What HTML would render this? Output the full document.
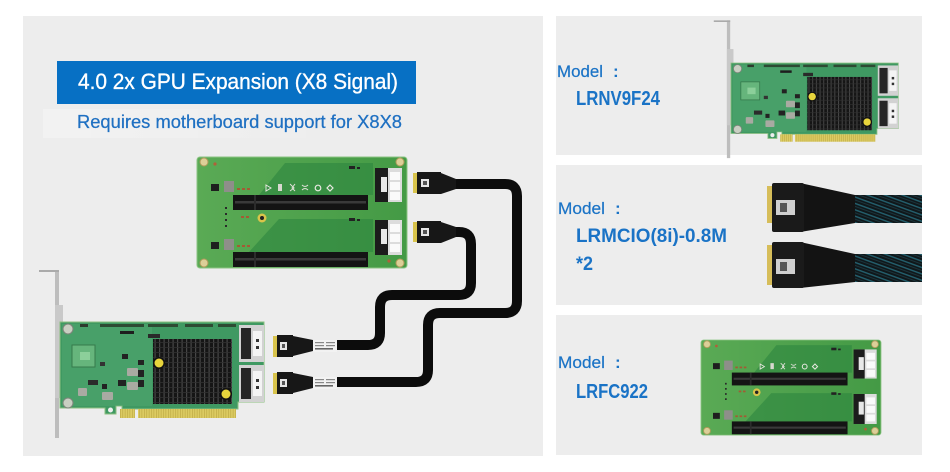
<!DOCTYPE html>
<html><head><meta charset="utf-8"><style>
html,body{margin:0;padding:0;background:#fff;}
svg{display:block;}
text{font-family:"Liberation Sans","Noto Sans CJK SC",sans-serif;}
</style></head><body>
<svg width="950" height="472" viewBox="0 0 950 472" xmlns="http://www.w3.org/2000/svg">
<defs>
  <pattern id="fins" width="4.5" height="5" patternUnits="userSpaceOnUse">
    <rect width="4.5" height="5" fill="#151515"/>
    <rect width="1.2" height="5" fill="#474747"/>
    <rect width="4.5" height="0.8" fill="#303030"/>
  </pattern>
  <pattern id="gold" width="2.4" height="10" patternUnits="userSpaceOnUse">
    <rect width="2.4" height="10" fill="#dccb62"/>
    <rect width="0.6" height="10" fill="#b9a540"/>
  </pattern>
  <pattern id="braid" width="6" height="6" patternUnits="userSpaceOnUse" patternTransform="rotate(20)">
    <rect width="6" height="6" fill="#10171a"/>
    <rect width="6" height="1.4" fill="#24606e"/>
    <rect y="3" width="6" height="1" fill="#1a353c"/>
  </pattern>
  <linearGradient id="glow" x1="0" x2="1" y1="0" y2="0">
    <stop offset="0" stop-color="#fff" stop-opacity="0.3"/>
    <stop offset="1" stop-color="#fff" stop-opacity="0"/>
  </linearGradient>
  <linearGradient id="riserg" x1="0" x2="1" y1="0" y2="0">
    <stop offset="0" stop-color="#5aaa55"/>
    <stop offset="1" stop-color="#449a45"/>
  </linearGradient>

  <!-- Riser board (local 210 x 111) -->
  <g id="riser">
    <rect x="0" y="0" width="210" height="111" rx="3" fill="url(#riserg)" stroke="#8cc482" stroke-width="1"/>
    <polygon points="88,6 176,6 176,38 62,38" fill="#2d8640" opacity="0.6"/>
    <polygon points="82,62 176,62 176,95 52,95" fill="#2d8640" opacity="0.6"/>
    <rect x="36" y="38" width="135" height="15" fill="#141414"/>
    <rect x="38" y="44" width="131" height="2.5" fill="#3a3a3a"/>
    <rect x="57" y="38" width="2" height="15" fill="#2c2c2c"/>
    <rect x="36" y="95" width="135" height="15" fill="#141414"/>
    <rect x="38" y="101" width="131" height="2.5" fill="#3a3a3a"/>
    <rect x="57" y="95" width="2" height="15" fill="#2c2c2c"/>
    <rect x="178" y="11" width="27" height="34" fill="#dcdcdc"/>
    <rect x="178" y="11" width="13" height="34" fill="#1c1c1c"/>
    <rect x="193" y="15" width="10" height="8" fill="#fafafa"/>
    <rect x="193" y="25" width="10" height="8" fill="#fafafa"/>
    <rect x="193" y="35" width="10" height="8" fill="#fafafa"/>
    <rect x="184" y="20" width="6" height="15" fill="#e8e8e8"/>
    <rect x="178" y="63" width="27" height="35" fill="#dcdcdc"/>
    <rect x="178" y="63" width="13" height="35" fill="#1c1c1c"/>
    <rect x="193" y="67" width="10" height="8" fill="#fafafa"/>
    <rect x="193" y="77" width="10" height="8" fill="#fafafa"/>
    <rect x="193" y="87" width="10" height="8" fill="#fafafa"/>
    <rect x="184" y="72" width="6" height="15" fill="#e8e8e8"/>
    <circle cx="7" cy="5" r="4" fill="#dccf98" stroke="#b09a5a" stroke-width="1"/>
    <circle cx="203" cy="5" r="4" fill="#dccf98" stroke="#b09a5a" stroke-width="1"/>
    <circle cx="7" cy="106" r="4" fill="#dccf98" stroke="#b09a5a" stroke-width="1"/>
    <circle cx="203" cy="106" r="4" fill="#dccf98" stroke="#b09a5a" stroke-width="1"/>
    <circle cx="18" cy="7" r="1.6" fill="#b0603a"/>
    <circle cx="192" cy="104" r="1.6" fill="#b0603a"/>
    <circle cx="65" cy="61" r="4.5" fill="#d9c44a"/>
    <circle cx="65" cy="61" r="2" fill="#222"/>
    <rect x="14" y="27" width="8" height="7" fill="#1e1e1e"/>
    <rect x="27" y="24" width="10" height="11" fill="#8e8e8a"/>
    <rect x="14" y="85" width="8" height="7" fill="#1e1e1e"/>
    <rect x="27" y="82" width="10" height="11" fill="#8e8e8a"/>
    <rect x="40" y="31" width="3" height="2" fill="#a45a34"/><rect x="45" y="31" width="3" height="2" fill="#a45a34"/><rect x="50" y="31" width="3" height="2" fill="#a45a34"/>
    <rect x="40" y="88" width="3" height="2" fill="#a45a34"/><rect x="45" y="88" width="3" height="2" fill="#a45a34"/><rect x="50" y="88" width="3" height="2" fill="#a45a34"/>
    <rect x="44" y="59" width="3" height="2" fill="#a45a34"/><rect x="49" y="59" width="3" height="2" fill="#a45a34"/>
    <rect x="28" y="50" width="2" height="2" fill="#2a2a2a"/><rect x="28" y="56" width="2" height="2" fill="#2a2a2a"/><rect x="28" y="62" width="2" height="2" fill="#2a2a2a"/><rect x="28" y="68" width="2" height="2" fill="#2a2a2a"/>
    <path d="M69,28 l5,3 l-5,3 z" fill="none" stroke="#e8e8e0" stroke-width="1"/>
    <rect x="81" y="27" width="4" height="7" fill="#d8d8d0"/>
    <path d="M93,27 l4,4 l-4,3 M98,27 l-3,4 l3,3" fill="none" stroke="#e0e0d8" stroke-width="1"/>
    <path d="M105,28 q3,3 6,0 M105,33 q3,-3 6,0" fill="none" stroke="#e0e0d8" stroke-width="1"/>
    <circle cx="121" cy="31" r="2.8" fill="none" stroke="#e8e8e0" stroke-width="1.2"/>
    <path d="M133,28 l3,3 l-3,3 l-3,-3 z" fill="none" stroke="#e8e8e0" stroke-width="1.2"/>
    <rect x="152" y="9" width="6" height="3" fill="#222"/><rect x="160" y="10" width="3" height="2" fill="#222"/>
    <rect x="152" y="61" width="6" height="3" fill="#222"/><rect x="160" y="62" width="3" height="2" fill="#222"/>
  </g>

  <!-- HBA card (local, origin PCB top-left) -->
  <g id="hba">
    <rect x="-5" y="-52" width="4" height="168" fill="#bdbdbd"/>
    <rect x="-21" y="-52" width="20" height="2" fill="#aaa"/>
    <rect x="-5" y="-17" width="8" height="93" fill="#c9c9c9"/>
    <polygon points="0,0 204,0 204,80 178,80 178,87 62,87 62,84 56,84 56,92 45,92 45,86 0,86" fill="#3f9962" stroke="#8cc080" stroke-width="1"/>
    <rect x="2" y="2" width="90" height="82" fill="#55a874" opacity="0.45"/>
    <rect x="60" y="87" width="15" height="9" fill="url(#gold)"/>
    <rect x="78" y="87" width="98" height="9" fill="url(#gold)"/>
    <circle cx="50.5" cy="88" r="2.5" fill="#eee"/>
    <rect x="20" y="2" width="8" height="3" fill="#2d3a2d"/>
    <rect x="40" y="2" width="44" height="3" fill="#2d4a33"/>
    <rect x="88" y="2" width="30" height="3" fill="#2d4a33"/>
    <rect x="125" y="2" width="28" height="3" fill="#2d4a33"/>
    <rect x="158" y="2" width="18" height="3" fill="#2d4a33"/>
    <rect x="60" y="9" width="14" height="3" fill="#1e1e1e"/>
    <rect x="12" y="23" width="23" height="22" fill="#66b57c" stroke="#367a4c" stroke-width="1"/>
    <rect x="20" y="30" width="10" height="8" fill="#8ccf9a"/>
    <rect x="58" y="58" width="8" height="6" fill="#222"/>
    <rect x="78" y="38" width="6" height="5" fill="#222"/>
    <rect x="78" y="48" width="6" height="7" fill="#222"/>
    <rect x="78" y="58" width="6" height="7" fill="#222"/>
    <rect x="62" y="32" width="6" height="5" fill="#222"/>
    <rect x="42" y="62" width="5" height="5" fill="#222"/>
    <rect x="40" y="40" width="5" height="4" fill="#333"/>
    <rect x="28" y="58" width="10" height="5" fill="#2b2b2b"/>
    <rect x="42" y="70" width="11" height="8" fill="#a9aaa2" rx="1"/>
    <rect x="67" y="60" width="11" height="8" fill="#a9aaa2" rx="1"/>
    <rect x="67" y="46" width="11" height="8" fill="#a9aaa2" rx="1"/>
    <rect x="18" y="66" width="9" height="8" fill="#a9aaa2" rx="1"/>
    <rect x="88" y="12" width="12" height="4" fill="#2a2a2a"/>
    <circle cx="8" cy="7" r="5" fill="#c9cfc2" stroke="#7c857a" stroke-width="1"/>
    <circle cx="8" cy="81" r="5" fill="#c9cfc2" stroke="#7c857a" stroke-width="1"/>
    <rect x="93" y="17" width="79" height="65" fill="url(#fins)"/>
    <circle cx="99" cy="41" r="6" fill="#111"/>
    <circle cx="99" cy="41" r="4.5" fill="#e8d53c"/>
    <circle cx="166" cy="72" r="6" fill="#111"/>
    <circle cx="166" cy="72" r="4.5" fill="#e8d53c"/>
    <rect x="179" y="3" width="25" height="37" fill="#d2d2d2"/>
    <rect x="181" y="6" width="10" height="31" fill="#262626"/>
    <rect x="193" y="9" width="9" height="25" fill="#f4f4f4"/>
    <rect x="196" y="17" width="3" height="3" fill="#333"/><rect x="196" y="24" width="3" height="3" fill="#333"/>
    <rect x="179" y="43" width="25" height="37" fill="#d2d2d2"/>
    <rect x="181" y="46" width="10" height="31" fill="#262626"/>
    <rect x="193" y="49" width="9" height="25" fill="#f4f4f4"/>
    <rect x="196" y="57" width="3" height="3" fill="#333"/><rect x="196" y="64" width="3" height="3" fill="#333"/>
  </g>
</defs>

<!-- Panels -->
<rect x="23" y="16" width="520" height="440" fill="#ededed"/>
<rect x="556" y="16" width="366" height="139" fill="#ededed"/>
<rect x="556" y="165" width="366" height="140" fill="#ededed"/>
<rect x="556" y="315" width="366" height="140" fill="#ededed"/>

<!-- Title banner -->
<rect x="57" y="61" width="359" height="43" fill="#0770c4"/>
<text x="78" y="89" font-size="22" fill="#fff" stroke="#fff" stroke-width="0.35" textLength="320" lengthAdjust="spacingAndGlyphs">4.0  2x GPU Expansion (X8 Signal)</text>
<rect x="43" y="109" width="290" height="29" fill="url(#glow)"/>
<text x="77" y="128" font-size="18" fill="#1f70c2" stroke="#1f70c2" stroke-width="0.25" textLength="325" lengthAdjust="spacingAndGlyphs">Requires motherboard support for X8X8</text>

<!-- Left riser -->
<use href="#riser" transform="translate(197,157)"/>

<!-- Cables -->
<path d="M455,184 H505 Q517,184 517,196 V301 Q517,313 505,313 H440 Q428,313 428,325 V370 Q428,382 416,382 H336" fill="none" stroke="#0c0c0c" stroke-width="10"/>
<path d="M455,232 H459 Q471,232 471,244 V283 Q471,295 459,295 H392 Q380,295 380,307 V333 Q380,345 368,345 H336" fill="none" stroke="#0c0c0c" stroke-width="10"/>

<!-- riser-side connectors -->
<g>
  <rect x="413" y="173" width="4" height="20" fill="#d8c34c"/>
  <rect x="417" y="172" width="24" height="22" fill="#171717"/>
  <rect x="421" y="179" width="8" height="8" fill="#e6e6e6"/>
  <rect x="423" y="181" width="4" height="4" fill="#555"/>
  <polygon points="441,173 456,179 456,189 441,194" fill="#171717"/>
</g>
<g transform="translate(0,49)">
  <rect x="413" y="173" width="4" height="20" fill="#d8c34c"/>
  <rect x="417" y="172" width="24" height="22" fill="#171717"/>
  <rect x="421" y="179" width="8" height="8" fill="#e6e6e6"/>
  <rect x="423" y="181" width="4" height="4" fill="#555"/>
  <polygon points="441,173 456,178 456,188 441,194" fill="#171717"/>
</g>

<!-- HBA card left -->
<use href="#hba" transform="translate(60,322)"/>

<!-- HBA-side connectors -->
<g>
  <rect x="273" y="336" width="4" height="21" fill="#d8c34c"/>
  <rect x="277" y="335" width="16" height="22" fill="#171717"/>
  <rect x="280" y="342" width="7" height="8" fill="#e6e6e6"/>
  <rect x="282" y="344" width="3" height="4" fill="#555"/>
  <polygon points="293,336 313,340 313,351 293,356" fill="#171717"/>
  <rect x="313" y="340" width="24" height="12" fill="#f2f2f2"/>
  <rect x="315" y="342" width="9" height="1.2" fill="#888"/><rect x="326" y="342" width="9" height="1.2" fill="#888"/>
  <rect x="315" y="345" width="9" height="1.2" fill="#888"/><rect x="326" y="345" width="9" height="1.2" fill="#888"/>
  <rect x="315" y="348" width="18" height="1.6" fill="#666"/>
</g>
<g transform="translate(0,37)">
  <rect x="273" y="336" width="4" height="21" fill="#d8c34c"/>
  <rect x="277" y="335" width="16" height="22" fill="#171717"/>
  <rect x="280" y="342" width="7" height="8" fill="#e6e6e6"/>
  <rect x="282" y="344" width="3" height="4" fill="#555"/>
  <polygon points="293,336 313,340 313,351 293,356" fill="#171717"/>
  <rect x="313" y="340" width="24" height="12" fill="#f2f2f2"/>
  <rect x="315" y="342" width="9" height="1.2" fill="#888"/><rect x="326" y="342" width="9" height="1.2" fill="#888"/>
  <rect x="315" y="345" width="9" height="1.2" fill="#888"/><rect x="326" y="345" width="9" height="1.2" fill="#888"/>
  <rect x="315" y="348" width="18" height="1.6" fill="#666"/>
</g>

<!-- Panel 1 -->
<text x="557" y="77" font-size="17" fill="#1a73c6" stroke="#1a73c6" stroke-width="0.2" textLength="46" lengthAdjust="spacingAndGlyphs">Model</text>
<text x="613" y="77" font-size="17" font-weight="bold" fill="#1a73c6">:</text>
<text x="576" y="105" font-size="20" font-weight="bold" fill="#1a73c6" textLength="84" lengthAdjust="spacingAndGlyphs">LRNV9F24</text>
<use href="#hba" transform="translate(731,63) scale(0.82)"/>

<!-- Panel 2 -->
<text x="558" y="214" font-size="17" fill="#1a73c6" stroke="#1a73c6" stroke-width="0.2" textLength="47" lengthAdjust="spacingAndGlyphs">Model</text>
<text x="615" y="214" font-size="17" font-weight="bold" fill="#1a73c6">:</text>
<text x="576" y="242" font-size="19" font-weight="bold" fill="#1a73c6" textLength="151" lengthAdjust="spacingAndGlyphs">LRMCIO(8i)-0.8M</text>
<text x="576" y="270" font-size="19" font-weight="bold" fill="#1a73c6" textLength="17" lengthAdjust="spacingAndGlyphs">*2</text>
<g>
  <rect x="855" y="195" width="67" height="28" fill="url(#braid)"/>
  <polygon points="800,183 855,195 855,223 800,232" fill="#131313"/>
  <rect x="767" y="186" width="5" height="37" fill="#d6bd5a"/>
  <rect x="772" y="183" width="32" height="49" fill="#1a1a1a" rx="2"/>
  <rect x="776" y="200" width="19" height="15" fill="#cfcfcf"/>
  <rect x="780" y="203" width="7" height="9" fill="#555"/>
</g>
<g transform="translate(0,59)">
  <rect x="855" y="195" width="67" height="28" fill="url(#braid)"/>
  <polygon points="800,183 855,195 855,223 800,229" fill="#131313"/>
  <rect x="767" y="186" width="5" height="40" fill="#d6bd5a"/>
  <rect x="772" y="183" width="32" height="46" fill="#1a1a1a" rx="2"/>
  <rect x="776" y="200" width="19" height="15" fill="#cfcfcf"/>
  <rect x="780" y="203" width="7" height="9" fill="#555"/>
</g>

<!-- Panel 3 -->
<text x="558" y="368" font-size="17" fill="#1a73c6" stroke="#1a73c6" stroke-width="0.2" textLength="47" lengthAdjust="spacingAndGlyphs">Model</text>
<text x="615" y="368" font-size="17" font-weight="bold" fill="#1a73c6">:</text>
<text x="576" y="398" font-size="20" font-weight="bold" fill="#1a73c6" textLength="72" lengthAdjust="spacingAndGlyphs">LRFC922</text>
<use href="#riser" transform="translate(701,340) scale(0.857)"/>
</svg>
</body></html>
